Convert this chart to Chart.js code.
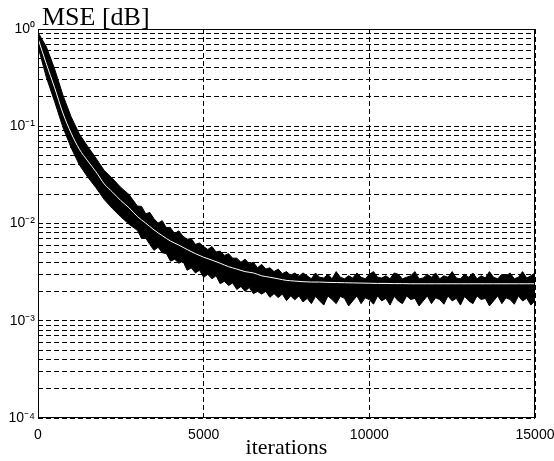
<!DOCTYPE html>
<html>
<head>
<meta charset="utf-8">
<script src="https://cdn.jsdelivr.net/npm/chart.js@4.4.1/dist/chart.umd.min.js"></script>
<style>
  body { margin: 0; background: #fff; }
  canvas { display: block; }
</style>
</head>
<body>
<canvas id="mse-chart" width="554" height="461"></canvas>
<script>
// Learning curve: noisy MSE band (black) with averaged curve (white), log y-axis.

// x positions of the noisy band edges (coarser on the steep start)
const noiseIters = [
  0, 250, 500, 750, 1000, 1250, 1500, 1750, 2000, 2250, 2500, 2750,
  3000, 3125, 3250, 3375, 3500, 3625, 3750, 3875, 4000, 4125, 4250, 4375, 4500, 4625, 4750, 4875,
  5000, 5125, 5250, 5375, 5500, 5625, 5750, 5875, 6000, 6125, 6250, 6375, 6500, 6625, 6750, 6875,
  7000, 7125, 7250, 7375, 7500, 7625, 7750, 7875, 8000, 8125, 8250, 8375, 8500, 8625, 8750, 8875,
  9000, 9125, 9250, 9375, 9500, 9625, 9750, 9875, 10000, 10125, 10250, 10375, 10500, 10625, 10750, 10875,
  11000, 11125, 11250, 11375, 11500, 11625, 11750, 11875, 12000, 12125, 12250, 12375, 12500, 12625, 12750, 12875,
  13000, 13125, 13250, 13375, 13500, 13625, 13750, 13875, 14000, 14125, 14250, 14375, 14500, 14625, 14750, 14875,
  15000
];

// upper edge of the noisy band
const noiseHigh = [
  0.92, 0.66, 0.39, 0.21, 0.125, 0.083, 0.062, 0.047, 0.035, 0.029, 0.0235, 0.0198,
  0.0151, 0.0150, 0.0126, 0.0130, 0.0112, 0.0101, 0.0107, 0.0090, 0.0090, 0.0079, 0.0084, 0.0074, 0.0069, 0.0070, 0.0061, 0.0063,
  0.0058, 0.0054, 0.0058, 0.0051, 0.0052, 0.0047, 0.0049, 0.0044, 0.0044, 0.0040, 0.0043, 0.00385, 0.0040, 0.0035, 0.0038, 0.0034,
  0.0035, 0.0032, 0.0034, 0.00305, 0.0032, 0.00294, 0.0031, 0.00287, 0.0031,
  0.0029, 0.0027, 0.0031, 0.0028, 0.00275, 0.0030, 0.0027, 0.0032,
  0.0028, 0.0027, 0.0029, 0.00275, 0.0031, 0.0028, 0.0027, 0.0030,
  0.0032, 0.0028, 0.00275, 0.0029, 0.0027, 0.0031, 0.0030, 0.0027,
  0.0028, 0.0029, 0.0032, 0.0027, 0.00275, 0.0030, 0.0028, 0.0031,
  0.0027, 0.0029, 0.0028, 0.0032, 0.00275, 0.0027, 0.0030, 0.0028,
  0.0031, 0.0027, 0.0029, 0.00275, 0.0032, 0.0028, 0.0027, 0.0030,
  0.0029, 0.0031, 0.0027, 0.0028, 0.0032, 0.00275, 0.0029, 0.0031
];

// lower edge of the noisy band
const noiseLow = [
  0.66, 0.32, 0.18, 0.098, 0.060, 0.040, 0.030, 0.0233, 0.0176, 0.0142, 0.0117, 0.0098,
  0.0085, 0.0070, 0.0071, 0.0061, 0.0053, 0.0057, 0.0050, 0.0049, 0.0041, 0.0043, 0.0039, 0.0041, 0.0033, 0.0035, 0.0031, 0.0033,
  0.0028, 0.0030, 0.0027, 0.0029, 0.0024, 0.00255, 0.0023, 0.00245, 0.0021, 0.00225, 0.0020, 0.0022, 0.0019, 0.0020, 0.00188, 0.0020,
  0.00174, 0.0019, 0.00173, 0.00188, 0.00161, 0.0018, 0.00164, 0.0018, 0.00156,
  0.0017, 0.0015, 0.00178, 0.0016, 0.00145, 0.0018, 0.00165, 0.0015,
  0.00178, 0.0017, 0.00142, 0.0016, 0.0018, 0.0015, 0.00172, 0.00165,
  0.00148, 0.0018, 0.0016, 0.0017, 0.00145, 0.00178, 0.0016, 0.0015,
  0.0018, 0.00165, 0.0017, 0.00142, 0.0016, 0.0018, 0.0015, 0.00172,
  0.00165, 0.00148, 0.0018, 0.0016, 0.0017, 0.00145, 0.00178, 0.0016,
  0.0015, 0.0018, 0.00165, 0.0017, 0.00142, 0.0016, 0.0018, 0.0015,
  0.00172, 0.00165, 0.00148, 0.0018, 0.0016, 0.0017, 0.00145, 0.0016
];

// averaged (theoretical) curve
const meanIters = [
  0, 250, 500, 750, 1000, 1250, 1500, 1750, 2000, 2250, 2500, 2750, 3000, 3250, 3500, 3750,
  4000, 4250, 4500, 4750, 5000, 5250, 5500, 5750, 6000, 6250, 6500, 6750, 7000, 7250, 7500, 7750,
  8000, 8250, 8500, 8750, 9000, 9250, 9500, 9750, 10000, 10250, 10500, 10750, 11000, 11250, 11500, 11750,
  12000, 12250, 12500, 12750, 13000, 13250, 13500, 13750, 14000, 14250, 14500, 14750, 15000
];
const meanMse = [
  0.80, 0.44, 0.25, 0.137, 0.085, 0.058, 0.044, 0.034, 0.0255, 0.021, 0.0172, 0.0145, 0.0118, 0.0101, 0.0086, 0.0075,
  0.0066, 0.0060, 0.0054, 0.0049, 0.0045, 0.0042, 0.0039, 0.0036, 0.0034, 0.0032, 0.0031, 0.0029, 0.0028, 0.0027, 0.0026, 0.00256,
  0.00252, 0.0025, 0.0025, 0.00248, 0.00247, 0.00246, 0.00245, 0.00244, 0.00243, 0.00242, 0.00242, 0.00241, 0.00241, 0.0024, 0.0024, 0.0024,
  0.0024, 0.0024, 0.0024, 0.0024, 0.0024, 0.0024, 0.0024, 0.0024, 0.0024, 0.0024, 0.0024, 0.0024, 0.0024
];

const xTicks = [0, 5000, 10000, 15000];
const yDecades = [1e-4, 1e-3, 1e-2, 1e-1, 1e0];
const yMantissas = [1, 2, 3, 4, 5, 6, 7, 8, 9];

const SUP = { "-": "\u207B", "0": "\u2070", "1": "\u00B9", "2": "\u00B2", "3": "\u00B3", "4": "\u2074" };

function toPoints(xs, ys) {
  return xs.map(function (x, i) { return { x: x, y: ys[i] }; });
}

function decadeLabel(v) {
  const e = Math.log10(v);
  if (Math.abs(e - Math.round(e)) > 1e-9) return "";
  return "10" + String(Math.round(e)).split("").map(function (c) { return SUP[c]; }).join("");
}

// full box + title text, drawn on top
const framePlugin = {
  id: "frame",
  afterDraw: function (chart) {
    const a = chart.chartArea;
    const ctx = chart.ctx;
    ctx.save();
    ctx.strokeStyle = "#000";
    ctx.lineWidth = 1;
    ctx.setLineDash([]);
    ctx.strokeRect(Math.round(a.left) + 0.5, Math.round(a.top) + 0.5,
                   Math.round(a.right - a.left) - 1, Math.round(a.bottom - a.top) - 1);
    ctx.fillStyle = "#000";
    ctx.font = "26px 'Liberation Serif', 'Times New Roman', serif";
    ctx.textBaseline = "alphabetic";
    ctx.textAlign = "left";
    ctx.fillText("MSE [dB]", 42, 25);
    ctx.restore();
  }
};

const ctx = document.getElementById("mse-chart").getContext("2d");
new Chart(ctx, {
  type: "line",
  data: {
    datasets: [
      { data: toPoints(noiseIters, noiseHigh), borderColor: "#000", borderWidth: 1, backgroundColor: "#000",
        fill: "+1", pointRadius: 0, tension: 0, order: 2 },
      { data: toPoints(noiseIters, noiseLow), borderColor: "#000", borderWidth: 1, backgroundColor: "#000",
        fill: false, pointRadius: 0, tension: 0, order: 3 },
      { data: toPoints(meanIters, meanMse), borderColor: "#fff", borderWidth: 1, fill: false,
        pointRadius: 0, cubicInterpolationMode: "monotone", order: 0 }
    ]
  },
  options: {
    responsive: false,
    animation: false,
    layout: { padding: { top: 29, right: 0, left: 0, bottom: 0 } },
    plugins: { legend: { display: false }, tooltip: { enabled: false } },
    scales: {
      x: {
        type: "linear",
        min: 0,
        max: 15000,
        afterBuildTicks: function (scale) { scale.ticks = xTicks.map(function (v) { return { value: v }; }); },
        ticks: { color: "#000", font: { family: "'Liberation Sans', Arial, sans-serif", size: 14 }, padding: 9,
                 maxRotation: 0, autoSkip: false, callback: function (v) { return String(v); } },
        grid: { color: "#000", lineWidth: 1, drawTicks: false },
        border: { display: false, dash: [5, 3] },
        title: { display: true, text: "iterations", color: "#000",
                 font: { family: "'Liberation Serif', 'Times New Roman', serif", size: 22 },
                 padding: { top: 0, bottom: 0 } },
        afterFit: function (scale) {
          scale.height = 43;
          scale.paddingLeft = 0;
          scale.paddingRight = 19;
        }
      },
      y: {
        type: "logarithmic",
        min: 1e-4,
        max: 1,
        afterBuildTicks: function (scale) {
          const vals = [];
          yDecades.forEach(function (d) {
            if (d === 1) { vals.push(1); return; }
            yMantissas.forEach(function (m) { vals.push(m * d); });
          });
          scale.ticks = vals.map(function (v) { return { value: v }; });
        },
        ticks: { color: "#000", font: { family: "'Liberation Sans', Arial, sans-serif", size: 14 }, padding: 3,
                 autoSkip: false, callback: function (v) { return decadeLabel(v); } },
        grid: { color: "#000", lineWidth: 1, drawTicks: false },
        border: { display: false, dash: [5, 3] },
        afterFit: function (scale) { scale.width = 38; }
      }
    }
  },
  plugins: [framePlugin]
});
</script>
</body>
</html>
